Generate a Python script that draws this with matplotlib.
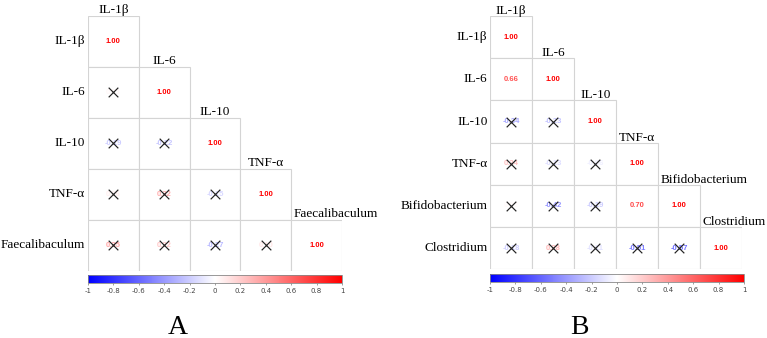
import numpy as np
import matplotlib
matplotlib.use("Agg")
import matplotlib.pyplot as plt
from matplotlib.colors import LinearSegmentedColormap, Normalize
from matplotlib.patches import Rectangle
from matplotlib.colorbar import ColorbarBase

# Panel A data (lower triangle, row by row)
labels_a = ['IL-1β', 'IL-6', 'IL-10', 'TNF-α', 'Faecalibaculum']
corr_a = [[1.00],
          [0.03, 1.00],
          [-0.19, -0.22, 1.00],
          [0.06, 0.32, -0.15, 1.00],
          [0.35, 0.22, -0.27, 0.10, 1.00]]
sig_a = [[True],
         [False, True],
         [False, False, True],
         [False, False, False, True],
         [False, False, False, False, True]]

# Panel B data
labels_b = ['IL-1β', 'IL-6', 'IL-10', 'TNF-α', 'Bifidobacterium', 'Clostridium']
corr_b = [[1.00],
          [0.66, 1.00],
          [-0.34, -0.23, 1.00],
          [0.24, -0.13, -0.06, 1.00],
          [0.02, -0.42, -0.19, 0.70, 1.00],
          [-0.18, 0.28, -0.11, -0.51, -0.57, 1.00]]
sig_b = [[True],
         [True, True],
         [False, False, True],
         [False, False, False, True],
         [False, False, False, True, True],
         [False, False, False, False, False, True]]

cbar_ticks = [-1, -0.8, -0.6, -0.4, -0.2, 0, 0.2, 0.4, 0.6, 0.8, 1]

cmap = LinearSegmentedColormap.from_list('bwr2', ['#0000ff', '#ffffff', '#ff0000'])
norm = Normalize(-1, 1)
serif = ['Liberation Serif', 'DejaVu Serif']

W, H = 767, 338
fig = plt.figure(figsize=(W / 100, H / 100), dpi=100)


def frac(x0, y0, x1, y1):
    # pixel box -> figure fraction rect
    return [x0 / W, 1 - y1 / H, (x1 - x0) / W, (y1 - y0) / H]


def draw_panel(ax, cax, labels, corr, sig, letter, letter_x):
    n = len(labels)
    ax.set_xlim(0, n)
    ax.set_ylim(n, 0)
    ax.axis('off')
    for i in range(n):
        for j in range(i + 1):
            ax.add_patch(Rectangle((j, i), 1, 1, facecolor='white',
                                   edgecolor='#d4d4d4', linewidth=0.8))
            v = corr[i][j]
            ax.text(j + 0.5, i + 0.5, f'{v:.2f}', ha='center', va='center',
                    fontsize=5.5, fontweight='bold', color=cmap(norm(v)),
                    family=['Liberation Sans', 'DejaVu Sans'])
            if not sig[i][j]:
                ax.scatter(j + 0.5, i + 0.5, marker='x', s=48, color='#222222',
                           linewidths=0.85, zorder=5)
    for i, lab in enumerate(labels):
        ax.text(-0.06, i + 0.5, lab, ha='right', va='center',
                fontsize=9.5, family=serif, clip_on=False)
        if len(lab) <= 6:
            ax.text(i + 0.5, i - 0.05, lab, ha='center', va='baseline',
                    fontsize=9.5, family=serif, clip_on=False)
        else:
            ax.text(i + 0.05, i - 0.05, lab, ha='left', va='baseline',
                    fontsize=9.5, family=serif, clip_on=False)

    cb = ColorbarBase(cax, cmap=cmap, norm=norm, orientation='horizontal',
                      ticks=cbar_ticks)
    cb.outline.set_edgecolor('#888888')
    cb.outline.set_linewidth(0.6)
    cax.set_xticklabels([f'{t:g}' for t in cbar_ticks])
    cax.tick_params(axis='x', length=1.5, width=0.5, color='#777777',
                    labelsize=5, labelcolor='#444444', pad=2)

    fig.text(letter_x / W, 1 - 327 / H, letter, ha='center', va='center',
             fontsize=20, family=serif)


ax_a = fig.add_axes(frac(88, 16, 342, 270.7))
cax_a = fig.add_axes(frac(88, 275, 342, 283))
draw_panel(ax_a, cax_a, labels_a, corr_a, sig_a, 'A', 178)

ax_b = fig.add_axes(frac(490, 16, 742.5, 269.3))
cax_b = fig.add_axes(frac(490, 274, 744, 282))
draw_panel(ax_b, cax_b, labels_b, corr_b, sig_b, 'B', 579)

fig.savefig('out.png', dpi=100, facecolor='white')
